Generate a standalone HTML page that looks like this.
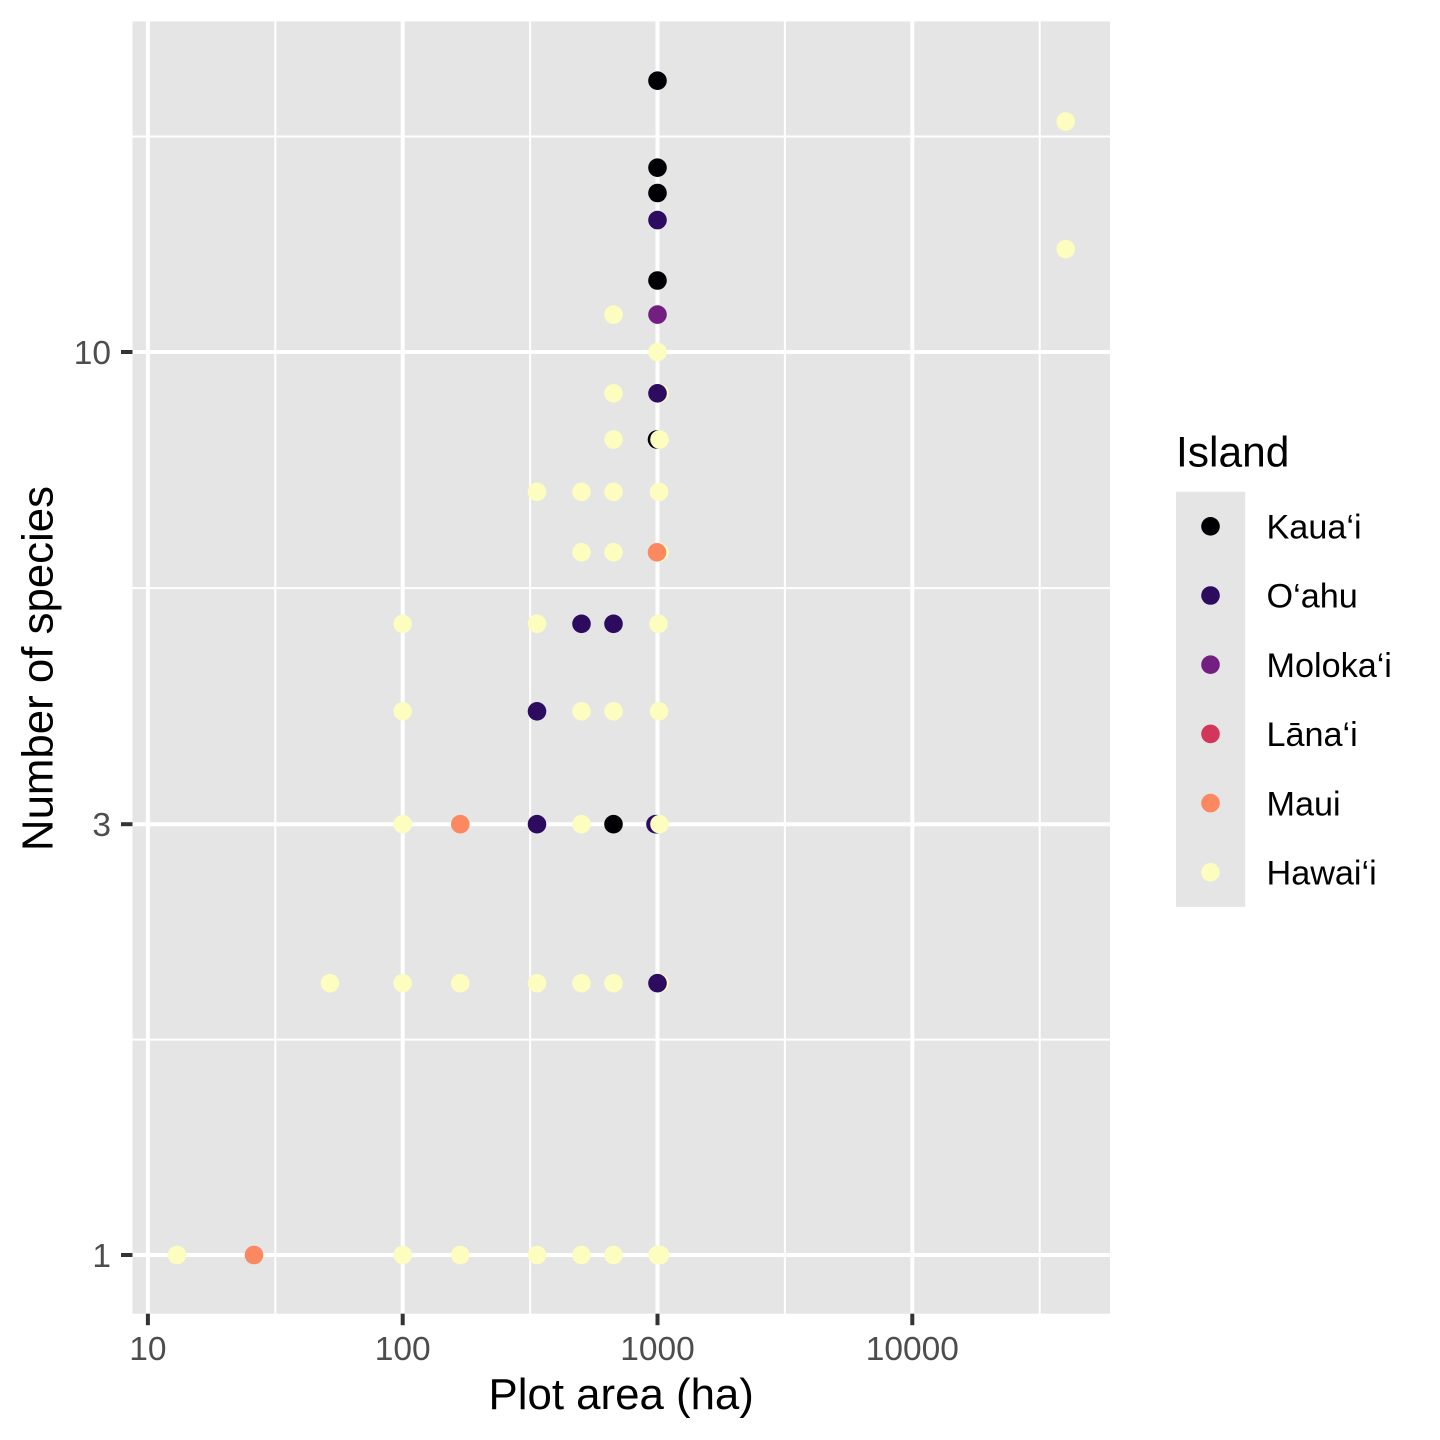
<!DOCTYPE html>
<html>
<head>
<meta charset="utf-8">
<style>
html,body{margin:0;padding:0;background:#fff;}
svg{display:block;}
text{font-family:"Liberation Sans",Arial,sans-serif;}
</style>
</head>
<body>
<svg width="1440" height="1440" viewBox="0 0 1440 1440" xmlns="http://www.w3.org/2000/svg">
<rect x="0" y="0" width="1440" height="1440" fill="#ffffff"/>
<!-- panel -->
<rect x="132.5" y="21.4" width="977.5" height="1292.3" fill="#E5E5E5"/>
<!-- minor grid -->
<g stroke="#ffffff" stroke-width="2">
<line x1="275.3" y1="21.4" x2="275.3" y2="1313.7"/>
<line x1="530.1" y1="21.4" x2="530.1" y2="1313.7"/>
<line x1="784.9" y1="21.4" x2="784.9" y2="1313.7"/>
<line x1="1039.7" y1="21.4" x2="1039.7" y2="1313.7"/>
<line x1="132.5" y1="1039.6" x2="1110" y2="1039.6"/>
<line x1="132.5" y1="588.1" x2="1110" y2="588.1"/>
<line x1="132.5" y1="136.5" x2="1110" y2="136.5"/>
</g>
<!-- major grid -->
<g stroke="#ffffff" stroke-width="4">
<line x1="147.9" y1="21.4" x2="147.9" y2="1313.7"/>
<line x1="402.7" y1="21.4" x2="402.7" y2="1313.7"/>
<line x1="657.5" y1="21.4" x2="657.5" y2="1313.7"/>
<line x1="912.3" y1="21.4" x2="912.3" y2="1313.7"/>
<line x1="132.5" y1="1255" x2="1110" y2="1255"/>
<line x1="132.5" y1="824.2" x2="1110" y2="824.2"/>
<line x1="132.5" y1="352" x2="1110" y2="352"/>
</g>
<!-- points: Hawai'i behind -->
<g fill="#FCFDBF">
<circle cx="659.5" cy="393.3" r="9.3"/>
<circle cx="659.5" cy="552.3" r="9.3"/>
<circle cx="659.5" cy="983.2" r="9.3"/>
</g>
<!-- Kaua'i -->
<g fill="#000004">
<circle cx="657.5" cy="80.7" r="9.3"/>
<circle cx="657.5" cy="167.7" r="9.3"/>
<circle cx="657.5" cy="193" r="9.3"/>
<circle cx="657.5" cy="280.5" r="9.3"/>
<circle cx="613.5" cy="824.2" r="9.3"/>
<circle cx="657" cy="824.2" r="9.3"/>
<circle cx="657" cy="439.5" r="9.3"/>
</g>
<!-- O'ahu -->
<g fill="#2D0B5E">
<circle cx="657.5" cy="220.1" r="9.3"/>
<circle cx="657.5" cy="393.3" r="9.3"/>
<circle cx="537" cy="711.3" r="9.3"/>
<circle cx="581.5" cy="623.8" r="9.3"/>
<circle cx="613.5" cy="623.8" r="9.3"/>
<circle cx="537" cy="824.2" r="9.3"/>
<circle cx="657.5" cy="983.2" r="9.3"/>
<circle cx="655.5" cy="824.2" r="9.3"/>
</g>
<!-- Moloka'i -->
<circle cx="657.5" cy="314.6" r="9.3" fill="#721F81"/>
<!-- Maui -->
<g fill="#FB8861">
<circle cx="254" cy="1255" r="9.3"/>
<circle cx="460.3" cy="824.2" r="9.3"/>
<circle cx="657" cy="552.3" r="9.3"/>
</g>
<!-- Hawai'i front -->
<g fill="#FCFDBF">
<circle cx="1065.7" cy="121.5" r="9.3"/>
<circle cx="1065.7" cy="249.1" r="9.3"/>
<circle cx="613.5" cy="314.6" r="9.3"/>
<circle cx="657.5" cy="352" r="9.3"/>
<circle cx="613.5" cy="393.3" r="9.3"/>
<circle cx="613.5" cy="439.5" r="9.3"/>
<circle cx="659.5" cy="439.5" r="9.3"/>
<circle cx="537" cy="491.9" r="9.3"/>
<circle cx="581.5" cy="491.9" r="9.3"/>
<circle cx="613.5" cy="491.9" r="9.3"/>
<circle cx="659" cy="491.9" r="9.3"/>
<circle cx="581.5" cy="552.3" r="9.3"/>
<circle cx="613.5" cy="552.3" r="9.3"/>
<circle cx="402.7" cy="623.8" r="9.3"/>
<circle cx="537" cy="623.8" r="9.3"/>
<circle cx="658.5" cy="623.8" r="9.3"/>
<circle cx="402.7" cy="711.3" r="9.3"/>
<circle cx="581.5" cy="711.3" r="9.3"/>
<circle cx="613.5" cy="711.3" r="9.3"/>
<circle cx="659" cy="711.3" r="9.3"/>
<circle cx="402.7" cy="824.2" r="9.3"/>
<circle cx="581.5" cy="824.2" r="9.3"/>
<circle cx="659.5" cy="824.2" r="9.3"/>
<circle cx="330" cy="983.2" r="9.3"/>
<circle cx="402.7" cy="983.2" r="9.3"/>
<circle cx="460.3" cy="983.2" r="9.3"/>
<circle cx="537" cy="983.2" r="9.3"/>
<circle cx="581.5" cy="983.2" r="9.3"/>
<circle cx="613.5" cy="983.2" r="9.3"/>
<circle cx="177" cy="1255" r="9.3"/>
<circle cx="402.7" cy="1255" r="9.3"/>
<circle cx="460.3" cy="1255" r="9.3"/>
<circle cx="537" cy="1255" r="9.3"/>
<circle cx="581.5" cy="1255" r="9.3"/>
<circle cx="613.5" cy="1255" r="9.3"/>
<circle cx="657.5" cy="1255" r="9.3"/>
<circle cx="660" cy="1255" r="9.3"/>
</g>
<!-- ticks -->
<g stroke="#333333" stroke-width="4">
<line x1="121" y1="1255" x2="132.5" y2="1255"/>
<line x1="121" y1="824.2" x2="132.5" y2="824.2"/>
<line x1="121" y1="352" x2="132.5" y2="352"/>
<line x1="147.9" y1="1313.7" x2="147.9" y2="1325.2"/>
<line x1="402.7" y1="1313.7" x2="402.7" y2="1325.2"/>
<line x1="657.5" y1="1313.7" x2="657.5" y2="1325.2"/>
<line x1="912.3" y1="1313.7" x2="912.3" y2="1325.2"/>
</g>
<!-- tick labels -->
<g fill="#4D4D4D" font-size="33.5">
<text x="111" y="1267" text-anchor="end">1</text>
<text x="111" y="836.2" text-anchor="end">3</text>
<text x="111" y="364" text-anchor="end">10</text>
<text x="147.9" y="1359.8" text-anchor="middle">10</text>
<text x="402.7" y="1359.8" text-anchor="middle">100</text>
<text x="657.5" y="1359.8" text-anchor="middle">1000</text>
<text x="912.3" y="1359.8" text-anchor="middle">10000</text>
</g>
<!-- axis titles -->
<text x="621.2" y="1409" text-anchor="middle" font-size="43.8" fill="#000">Plot area (ha)</text>
<text transform="translate(52.5,668.5) rotate(-90)" text-anchor="middle" font-size="43.8" fill="#000">Number of species</text>
<!-- legend -->
<text x="1176" y="466.7" font-size="42.5" fill="#000">Island</text>
<rect x="1176" y="491.7" width="69.2" height="415.2" fill="#E5E5E5"/>
<circle cx="1210.5" cy="526.3" r="9.3" fill="#000004"/>
<circle cx="1210.5" cy="595.5" r="9.3" fill="#2D0B5E"/>
<circle cx="1210.5" cy="664.7" r="9.3" fill="#721F81"/>
<circle cx="1210.5" cy="733.9" r="9.3" fill="#D3365A"/>
<circle cx="1210.5" cy="803.1" r="9.3" fill="#FB8861"/>
<circle cx="1210.5" cy="872.3" r="9.3" fill="#FCFDBF"/>
<g font-size="34.2" fill="#000">
<text x="1266.5" y="538.5">Kaua‘i</text>
<text x="1266.5" y="607.7">O‘ahu</text>
<text x="1266.5" y="676.9">Moloka‘i</text>
<text x="1266.5" y="746.1">Lāna‘i</text>
<text x="1266.5" y="815.3">Maui</text>
<text x="1266.5" y="884.5">Hawai‘i</text>
</g>
</svg>
</body>
</html>
